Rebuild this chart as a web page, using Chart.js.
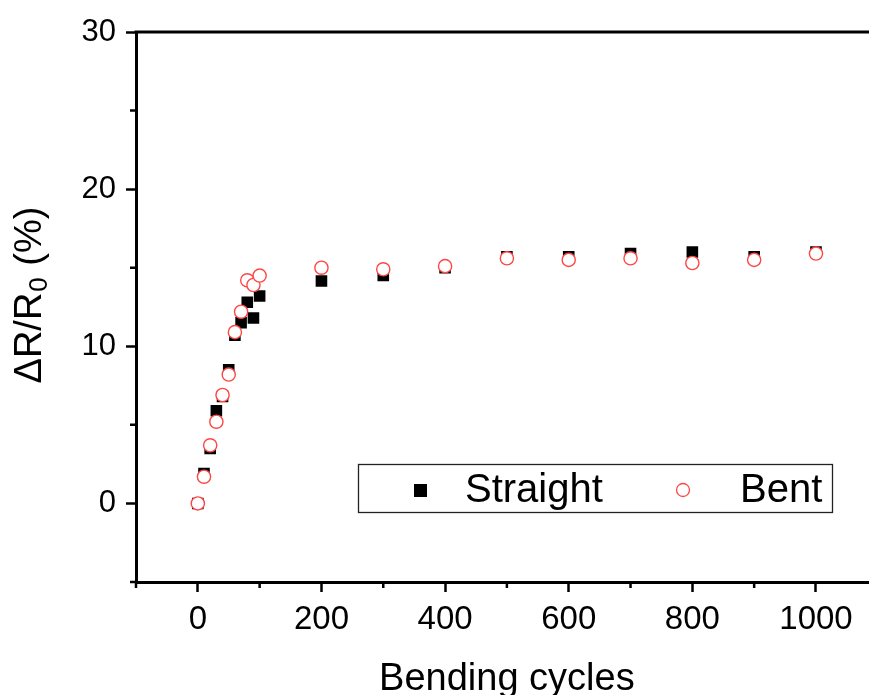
<!DOCTYPE html>
<html><head><meta charset="utf-8">
<script src="https://cdn.jsdelivr.net/npm/chart.js@4/dist/chart.umd.min.js"></script>
<style>html,body{margin:0;padding:0;background:#fff;overflow:hidden;} #wrap{width:886px;height:695px;}</style>
</head><body><div id="wrap"><canvas id="c" width="886" height="695"></canvas></div>
<script>
const cycles   = [0, 10, 20, 30, 40, 50, 60, 70, 80, 90, 100, 200, 300, 400, 500, 600, 700, 800, 900, 1000];
const straight = [0, 1.9, 3.5, 5.9, 6.8, 8.5, 10.7, 11.5, 12.8, 11.8, 13.2, 14.15, 14.5, 15.0, 15.7, 15.7, 15.9, 16.0, 15.7, 16.0];
const bent     = [0, 1.7, 3.7, 5.2, 6.9, 8.2, 10.9, 12.2, 14.2, 13.9, 14.5, 15.0, 14.9, 15.1, 15.6, 15.5, 15.6, 15.3, 15.5, 15.9];
const seriesLabels = ['Straight', 'Bent'];
const xTickValues  = [0, 200, 400, 600, 800, 1000];
const xMinorValues = [-100, 100, 300, 500, 700, 900];
const yTickValues  = [0, 10, 20, 30];
const yMinorValues = [-5, 5, 15, 25];
const xTitle = 'Bending cycles';
const yTitleParts = ['\u0394R/R', '0', ' (%)'];

const FONT = '"Liberation Sans", Arial, Helvetica, sans-serif';
const RED = 'rgb(255,70,70)';

const decor = {
  id: 'decor',
  afterDraw(chart) {
    const ctx = chart.ctx, a = chart.chartArea;
    const xs = chart.scales.x, ys = chart.scales.y;
    ctx.save();
    // top frame line
    ctx.strokeStyle = '#000'; ctx.lineWidth = 3;
    ctx.beginPath(); ctx.moveTo(a.left - 1.5, a.top); ctx.lineTo(a.right + 2, a.top); ctx.stroke();
    // minor ticks
    ctx.lineWidth = 2.5;
    ctx.beginPath();
    xMinorValues.forEach(v => { const px = xs.getPixelForValue(v); ctx.moveTo(px, a.bottom); ctx.lineTo(px, a.bottom + 6); });
    yMinorValues.forEach(v => { const py = ys.getPixelForValue(v); ctx.moveTo(a.left, py); ctx.lineTo(a.left - 6, py); });
    ctx.stroke();
    // axis titles
    ctx.fillStyle = '#000';
    ctx.font = '38px ' + FONT;
    ctx.textAlign = 'center'; ctx.textBaseline = 'alphabetic';
    ctx.fillText(xTitle, (a.left + a.right) / 2, 690);
    // y title with subscript
    ctx.save();
    ctx.translate(41, 296);
    ctx.rotate(-Math.PI / 2);
    ctx.textAlign = 'left';
    const big = '38px ' + FONT, small = '26px ' + FONT;
    ctx.font = big; const w1 = ctx.measureText(yTitleParts[0]).width;
    ctx.font = small; const w2 = ctx.measureText(yTitleParts[1]).width;
    ctx.font = big; const w3 = ctx.measureText(yTitleParts[2]).width;
    let x0 = -(w1 + w2 + w3) / 2;
    ctx.font = big; ctx.fillText(yTitleParts[0], x0, 0);
    ctx.font = small; ctx.fillText(yTitleParts[1], x0 + w1 + 1, 6);
    ctx.font = big; ctx.fillText(yTitleParts[2], x0 + w1 + w2 + 2, 0);
    ctx.restore();
    // legend box
    ctx.lineWidth = 1.3; ctx.strokeStyle = '#222';
    ctx.strokeRect(358.5, 464.5, 474, 48);
    ctx.fillStyle = '#000';
    ctx.fillRect(414, 484, 13, 13);
    ctx.beginPath(); ctx.arc(683, 490, 6.5, 0, Math.PI * 2);
    ctx.fillStyle = '#fff'; ctx.fill();
    ctx.strokeStyle = RED; ctx.lineWidth = 1.3; ctx.stroke();
    ctx.fillStyle = '#000';
    ctx.font = '40px ' + FONT; ctx.textAlign = 'left';
    ctx.fillText(seriesLabels[0], 465, 502);
    ctx.fillText(seriesLabels[1], 740, 502);
    ctx.restore();
  }
};

new Chart(document.getElementById('c'), {
  type: 'scatter',
  data: {
    datasets: [
      { label: seriesLabels[0], data: cycles.map((c, i) => ({x: c, y: straight[i]})),
        pointStyle: 'rect', pointRadius: 8.2, borderWidth: 0, backgroundColor: '#000', borderColor: '#000', order: 2 },
      { label: seriesLabels[1], data: cycles.map((c, i) => ({x: c, y: bent[i]})),
        pointStyle: 'circle', pointRadius: 6.6, borderWidth: 1.4, backgroundColor: '#fff', borderColor: RED, order: 1 }
    ]
  },
  options: {
    responsive: false, animation: false, devicePixelRatio: 1,
    layout: { padding: { top: 32, right: 2, left: 0, bottom: 0 } },
    plugins: { legend: { display: false }, tooltip: { enabled: false } },
    scales: {
      x: {
        type: 'linear', min: -100, max: 1100,
        afterBuildTicks: s => { s.ticks = xTickValues.map(v => ({value: v})); },
        afterFit: s => { s.height = 113; s.paddingLeft = 0; s.paddingRight = 0; },
        ticks: { font: { family: FONT, size: 33 }, color: '#000', padding: 8, maxRotation: 0, autoSkip: false,
                 callback: v => String(v) },
        grid: { drawOnChartArea: false, drawTicks: true, tickLength: 10, tickWidth: 2.5, tickColor: '#000' },
        border: { color: '#000', width: 3 }
      },
      y: {
        min: -5, max: 30,
        afterBuildTicks: s => { s.ticks = yTickValues.map(v => ({value: v})); },
        afterFit: s => { s.width = 136; s.paddingTop = 0; s.paddingBottom = 0; },
        ticks: { font: { family: FONT, size: 31 }, color: '#000', padding: 10, callback: v => String(v) },
        grid: { drawOnChartArea: false, drawTicks: true, tickLength: 10, tickWidth: 2.5, tickColor: '#000' },
        border: { color: '#000', width: 3 }
      }
    }
  },
  plugins: [decor]
});
</script></body></html>
